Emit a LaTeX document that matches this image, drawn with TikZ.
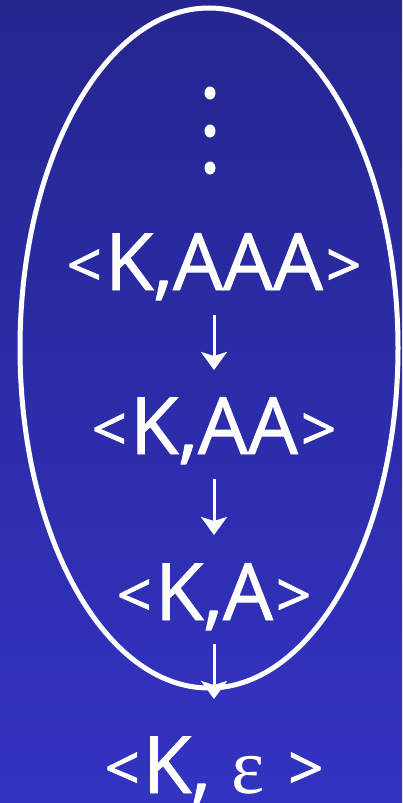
\documentclass[tikz,border=0pt]{standalone}
\usepackage{fontspec}
\setmainfont{Open Sans}[FakeBold=1.2,BoldFont=Open Sans]
\newfontfamily\epsfont{Liberation Serif}
\usetikzlibrary{arrows.meta,calc,shapes.geometric}
\definecolor{bgtop}{RGB}{37,38,143}
\definecolor{bgbot}{RGB}{51,51,194}
\newcommand\lsym{\raisebox{3pt}{\fontsize{62}{70}\selectfont<}\kern3pt}
\newcommand\rsym{\kern3pt\raisebox{3pt}{\fontsize{62}{70}\selectfont>}}
\tikzset{
  lbl/.style={text=white,anchor=base,inner sep=0pt,font=\fontsize{79}{90}\selectfont\bfseries},
  arr/.style={draw=white,line width=3pt,-{Stealth[length=18pt,width=26pt,inset=4pt]}},
  dotnode/.style={ellipse,fill=white,minimum width=11pt,minimum height=13pt,inner sep=0pt},
  ring/.style={draw=white,line width=5pt}
}
\begin{document}
\begin{tikzpicture}[x=1pt,y=-1pt]
\useasboundingbox (0,0) rectangle (402,803);
\shade[top color=bgtop,bottom color=bgbot] (0,0) rectangle (402,803);
\node[ring,ellipse,minimum width=378pt,minimum height=680pt,inner sep=0pt] (ring) at (209,348) {};
\node[dotnode] (d1) at (210,93) {};
\node[dotnode] (d2) at (210,131) {};
\node[dotnode] (d3) at (210,168) {};
\node[lbl] (l1) at (214,290) {\lsym K,AAA\rsym};
\node[lbl] (l2) at (214,454) {\lsym K,AA\rsym};
\node[lbl] (l3) at (214,620) {\lsym K,A\rsym};
\node[lbl] (l4) at (214,793) {\lsym K, {\epsfont\mdseries ε} \rsym};
\draw[arr] ($(l1.base)+(0,25)$) -- ($(l2.base)+(0,-84)$);
\draw[arr] ($(l2.base)+(0,25)$) -- ($(l3.base)+(0,-85)$);
\draw[arr] ($(l3.base)+(0,24)$) -- ($(l4.base)+(0,-94)$);
\end{tikzpicture}
\end{document}
